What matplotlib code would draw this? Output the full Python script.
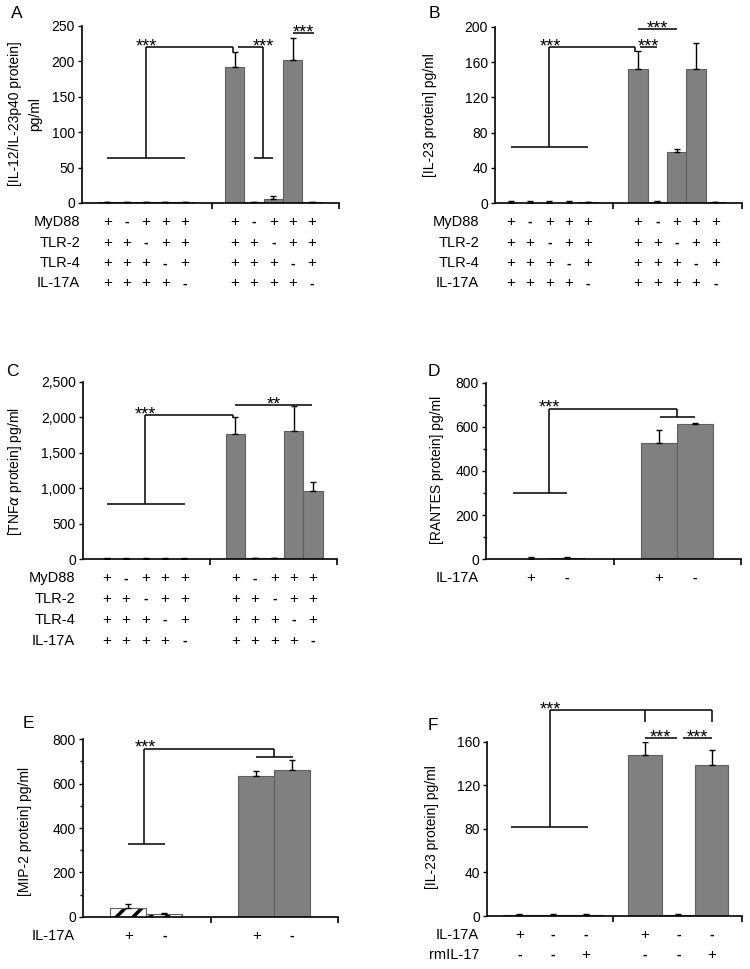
import matplotlib
matplotlib.use("Agg")
import matplotlib.pyplot as plt
import numpy as np
from matplotlib.transforms import blended_transform_factory

plt.rcParams['font.family'] = ['Liberation Sans', 'DejaVu Sans']
plt.rcParams['hatch.linewidth'] = 2.5
plt.rcParams['hatch.color'] = 'black'

W, H = 750, 969

# ---------------- data ----------------
# Panel A: IL-12/IL-23p40
a_g1_vals = [1, 1, 1, 1, 1]
a_g1_err = [1, 1, 1, 1, 1]
a_g2_vals = [192, 1, 6, 202, 1]
a_g2_err = [21, 1, 4, 30, 1]
a_ticks = [0, 50, 100, 150, 200, 250]
a_ticklabels = ['0', '50', '100', '150', '200', '250']

# Panel B: IL-23
b_g1_vals = [0.5, 0.5, 0.5, 0.5, 1]
b_g1_err = [2, 2, 2, 2, 1]
b_g2_vals = [152, 1, 58, 152, 1]
b_g2_err = [20, 2, 3, 29, 1]
b_ticks = [0, 40, 80, 120, 160, 200]
b_ticklabels = ['0', '40', '80', '120', '160', '200']

# Panel C: TNFalpha
c_g1_vals = [10, 10, 10, 10, 10]
c_g1_err = [4, 4, 4, 4, 4]
c_g2_vals = [1760, 20, 20, 1810, 965]
c_g2_err = [240, 5, 5, 345, 130]
c_ticks = [0, 500, 1000, 1500, 2000, 2500]
c_ticklabels = ['0', '500', '1,000', '1,500', '2,000', '2,500']

# Panel D: RANTES
d_g1_vals = [0, 8]
d_g1_err = [12, 2]
d_g2_vals = [528, 613]
d_g2_err = [58, 5]
d_ticks = [0, 200, 400, 600, 800]
d_ticklabels = ['0', '200', '400', '600', '800']

# Panel E: MIP-2
e_g1_vals = [40, 10]
e_g1_err = [16, 8]
e_g2_vals = [635, 660]
e_g2_err = [22, 47]
e_ticks = [0, 200, 400, 600, 800]
e_ticklabels = ['0', '200', '400', '600', '800']

# Panel F: IL-23 with rmIL-17
f_g1_vals = [0.5, 1, 0.5]
f_g1_err = [1, 1, 1]
f_g2_vals = [147.5, 1, 138.3]
f_g2_err = [12, 1, 14]
f_ticks = [0, 40, 80, 120, 160]
f_ticklabels = ['0', '40', '80', '120', '160']

# condition tables
five_rows = ['MyD88', 'TLR-2', 'TLR-4', 'IL-17A']
five_signs = [['+', '-', '+', '+', '+'],
              ['+', '+', '-', '+', '+'],
              ['+', '+', '+', '-', '+'],
              ['+', '+', '+', '+', '-']]
two_rows = ['IL-17A']
two_signs = [['+', '-']]
f_rows = ['IL-17A', 'rmIL-17']
f_signs = [['+', '-', '-'],
           ['-', '-', '+']]

ylabels = {
    'A': '[IL-12/IL-23p40 protein]\npg/ml',
    'B': '[IL-23 protein] pg/ml',
    'C': r'[TNF$\alpha$ protein] pg/ml',
    'D': '[RANTES protein] pg/ml',
    'E': '[MIP-2 protein] pg/ml',
    'F': '[IL-23 protein] pg/ml',
}

GRAY = '#808080'
EDGE = '#5f5f5f'


def axes_at(left, right, top, bottom):
    return fig.add_axes([left / W, 1 - bottom / H, (right - left) / W, (bottom - top) / H])


def style_axes(ax, xlim, brk, ylim, ticks, ticklabels, minor=None):
    ax.set_xlim(*xlim)
    ax.set_ylim(*ylim)
    for s in ['top', 'right']:
        ax.spines[s].set_visible(False)
    for s in ['left', 'bottom']:
        ax.spines[s].set_linewidth(1.2)
    ax.set_yticks(ticks)
    ax.set_yticklabels(ticklabels, fontsize=10)
    if minor is not None:
        ax.set_yticks(minor, minor=True)
        ax.tick_params(axis='y', which='minor', length=2.5, width=1)
    ax.tick_params(axis='y', which='major', length=3, width=1, pad=2)
    ax.set_xticks([brk, xlim[1]])
    ax.set_xticklabels(['', ''])
    ax.tick_params(axis='x', length=4, width=1.2)


def bars(ax, pos, vals, err, hatch=None):
    if hatch is None:
        ax.bar(pos, vals, width=1.0, color=GRAY, edgecolor=EDGE, linewidth=0.8, zorder=2)
    else:
        ax.bar(pos, vals, width=1.0, color='white', edgecolor='black', linewidth=0,
               hatch=hatch, zorder=2)
        ax.bar(pos, vals, width=1.0, fill=False, edgecolor=EDGE, linewidth=0.8, zorder=2)
    ax.errorbar(pos, vals, yerr=[np.zeros(len(vals)), err], fmt='none',
                ecolor='black', elinewidth=1, capsize=2.5, capthick=1, zorder=3)


def segs(ax, lines):
    for (x0, y0, x1, y1) in lines:
        ax.plot([x0, x1], [y0, y1], color='black', lw=1.1, clip_on=False,
                solid_capstyle='butt', zorder=4)


def stars(ax, x, y, s):
    ax.annotate(s, (x, y), xytext=(0, -3.0), textcoords='offset points',
                ha='center', va='baseline', fontsize=13, annotation_clip=False)


def table(ax, positions, rows, signs, ys_px, label_right_px):
    tr = blended_transform_factory(ax.transData, fig.transFigure)
    for r, (name, row) in enumerate(zip(rows, signs)):
        yf = 1 - ys_px[r] / H
        fig.text(label_right_px / W, yf, name, ha='right', va='center', fontsize=10.5)
        for x, s in zip(positions, row):
            ax.text(x, yf, s, transform=tr, ha='center', va='center',
                    fontsize=11 if s == '+' else 10, fontweight='bold' if s == '-' else 'normal')


def ylabel(x_px, y_px, text):
    fig.text(x_px / W, 1 - y_px / H, text, rotation=90, ha='center', va='center',
             fontsize=10, multialignment='center', linespacing=1.6)


def letter(x_px, y_px, s):
    fig.text(x_px / W, 1 - y_px / H, s, ha='center', va='center', fontsize=12.5)


fig = plt.figure(figsize=(W / 100, H / 100), dpi=100)

# ---------------- A ----------------
axA = axes_at(82, 339, 25.7, 203)
pA1 = np.arange(5)
pA2 = np.arange(5) + 6.6
bars(axA, pA1, a_g1_vals, a_g1_err)
bars(axA, pA2, a_g2_vals, a_g2_err)
style_axes(axA, (-1.31, 12.0), 5.43, (0, 250), a_ticks, a_ticklabels)
segs(axA, [(0, 63, 4.05, 63), (2.0, 63, 2.0, 219.5), (2.0, 219.5, 6.5, 219.5),
           (6.5, 219.5, 6.5, 213),
           (6.76, 219.5, 8.07, 219.5), (8.07, 219.5, 8.07, 63), (7.62, 63, 8.6, 63),
           (9.62, 239.3, 10.69, 239.3)])
stars(axA, 2.03, 219.5, '***')
stars(axA, 8.07, 219.5, '***')
stars(axA, 10.15, 239.3, '***')
table(axA, list(pA1) + list(pA2), five_rows, [r + r for r in five_signs],
      [221.7, 242.7, 263.3, 283.3], 80)
ylabel(25, 114, ylabels['A'])
letter(17, 13, 'A')

# ---------------- B ----------------
axB = axes_at(495, 742, 26.7, 203.3)
pB1 = np.arange(5)
pB2 = np.arange(5) + 6.58
bars(axB, pB1, b_g1_vals, b_g1_err)
bars(axB, pB2, b_g2_vals, b_g2_err)
style_axes(axB, (-0.81, 11.95), 5.3, (0, 200), b_ticks, b_ticklabels)
segs(axB, [(0, 64, 4.02, 64), (2.0, 64, 2.0, 176.6), (2.0, 176.6, 6.43, 176.6),
           (6.43, 176.6, 6.43, 171),
           (6.69, 176.6, 7.55, 176.6),
           (6.6, 197, 8.59, 197)])
stars(axB, 2.03, 176.6, '***')
stars(axB, 7.12, 176.6, '***')
stars(axB, 7.6, 197, '***')
table(axB, list(pB1) + list(pB2), five_rows, [r + r for r in five_signs],
      [221.7, 242.7, 263.3, 283.3], 479)
ylabel(430, 115, ylabels['B'])
letter(434, 13, 'B')

# ---------------- C ----------------
axC = axes_at(82.7, 336.7, 381.7, 559.3)
pC1 = np.arange(5)
pC2 = np.arange(5) + 6.64
bars(axC, pC1, c_g1_vals, c_g1_err)
bars(axC, pC2, c_g2_vals, c_g2_err)
style_axes(axC, (-1.24, 11.86), 5.31, (0, 2500), c_ticks, c_ticklabels)
segs(axC, [(0, 779, 4.05, 779), (1.98, 779, 1.98, 2031), (1.98, 2031, 6.5, 2031),
           (6.5, 2031, 6.5, 1984),
           (6.64, 2172, 10.6, 2172)])
stars(axC, 2.0, 2031, '***')
stars(axC, 8.62, 2172, '**')
table(axC, list(pC1) + list(pC2), five_rows, [r + r for r in five_signs],
      [578.3, 599, 620, 641], 75)
ylabel(15, 472, ylabels['C'])
letter(12, 371, 'C')

# ---------------- D ----------------
axD = axes_at(485.7, 741, 382.7, 559.3)
pD1 = np.arange(2)
pD2 = np.arange(2) + 3.55
bars(axD, pD1, d_g1_vals, d_g1_err)
bars(axD, pD2, d_g2_vals, d_g2_err)
style_axes(axD, (-1.25, 5.84), 2.3, (0, 800), d_ticks, d_ticklabels, minor=[100, 300, 500, 700])
segs(axD, [(-0.48, 302, 1.0, 302), (0.51, 302, 0.51, 682), (0.51, 682, 4.06, 682),
           (4.06, 682, 4.06, 643), (3.59, 643, 4.55, 643)])
stars(axD, 0.51, 682, '***')
table(axD, list(pD1) + list(pD2), two_rows, [r + r for r in two_signs], [578], 479)
ylabel(437, 470, ylabels['D'])
letter(434, 371, 'D')

# ---------------- E ----------------
axE = axes_at(82.7, 338.3, 739.3, 916.7)
pE1 = np.arange(2)
pE2 = np.arange(2) + 3.55
bars(axE, pE1, e_g1_vals, e_g1_err, hatch='//')
bars(axE, pE2, e_g2_vals, e_g2_err)
style_axes(axE, (-1.27, 5.83), 2.29, (0, 800), e_ticks, e_ticklabels, minor=[100, 300, 500, 700])
segs(axE, [(0, 329, 1.02, 329), (0.44, 329, 0.44, 758), (0.44, 758, 4.05, 758),
           (4.05, 758, 4.05, 722), (3.54, 722, 4.56, 722)])
stars(axE, 0.46, 758, '***')
table(axE, list(pE1) + list(pE2), two_rows, [r + r for r in two_signs], [936], 75)
ylabel(25, 831, ylabels['E'])
letter(28, 724, 'E')

# ---------------- F ----------------
axF = axes_at(486.7, 741.7, 741.7, 916)
pF1 = np.arange(3)
pF2 = np.arange(3) + 3.77
bars(axF, pF1, f_g1_vals, f_g1_err)
bars(axF, pF2, f_g2_vals, f_g2_err)
style_axes(axF, (-0.98, 6.67), 2.82, (0, 160), f_ticks, f_ticklabels)
segs(axF, [(-0.25, 82, 2.07, 82), (0.92, 82, 0.92, 189), (0.92, 189, 5.79, 189),
           (3.77, 189, 3.77, 178), (5.79, 189, 5.79, 178),
           (3.77, 163, 4.72, 163), (4.92, 163, 5.79, 163)])
stars(axF, 0.92, 189, '***')
stars(axF, 4.24, 163, '***')
stars(axF, 5.33, 163, '***')
table(axF, list(pF1) + list(pF2), f_rows, [r + r for r in f_signs], [935, 955], 479)
ylabel(432, 827, ylabels['F'])
letter(433, 726, 'F')

fig.savefig('out.png', dpi=100)
